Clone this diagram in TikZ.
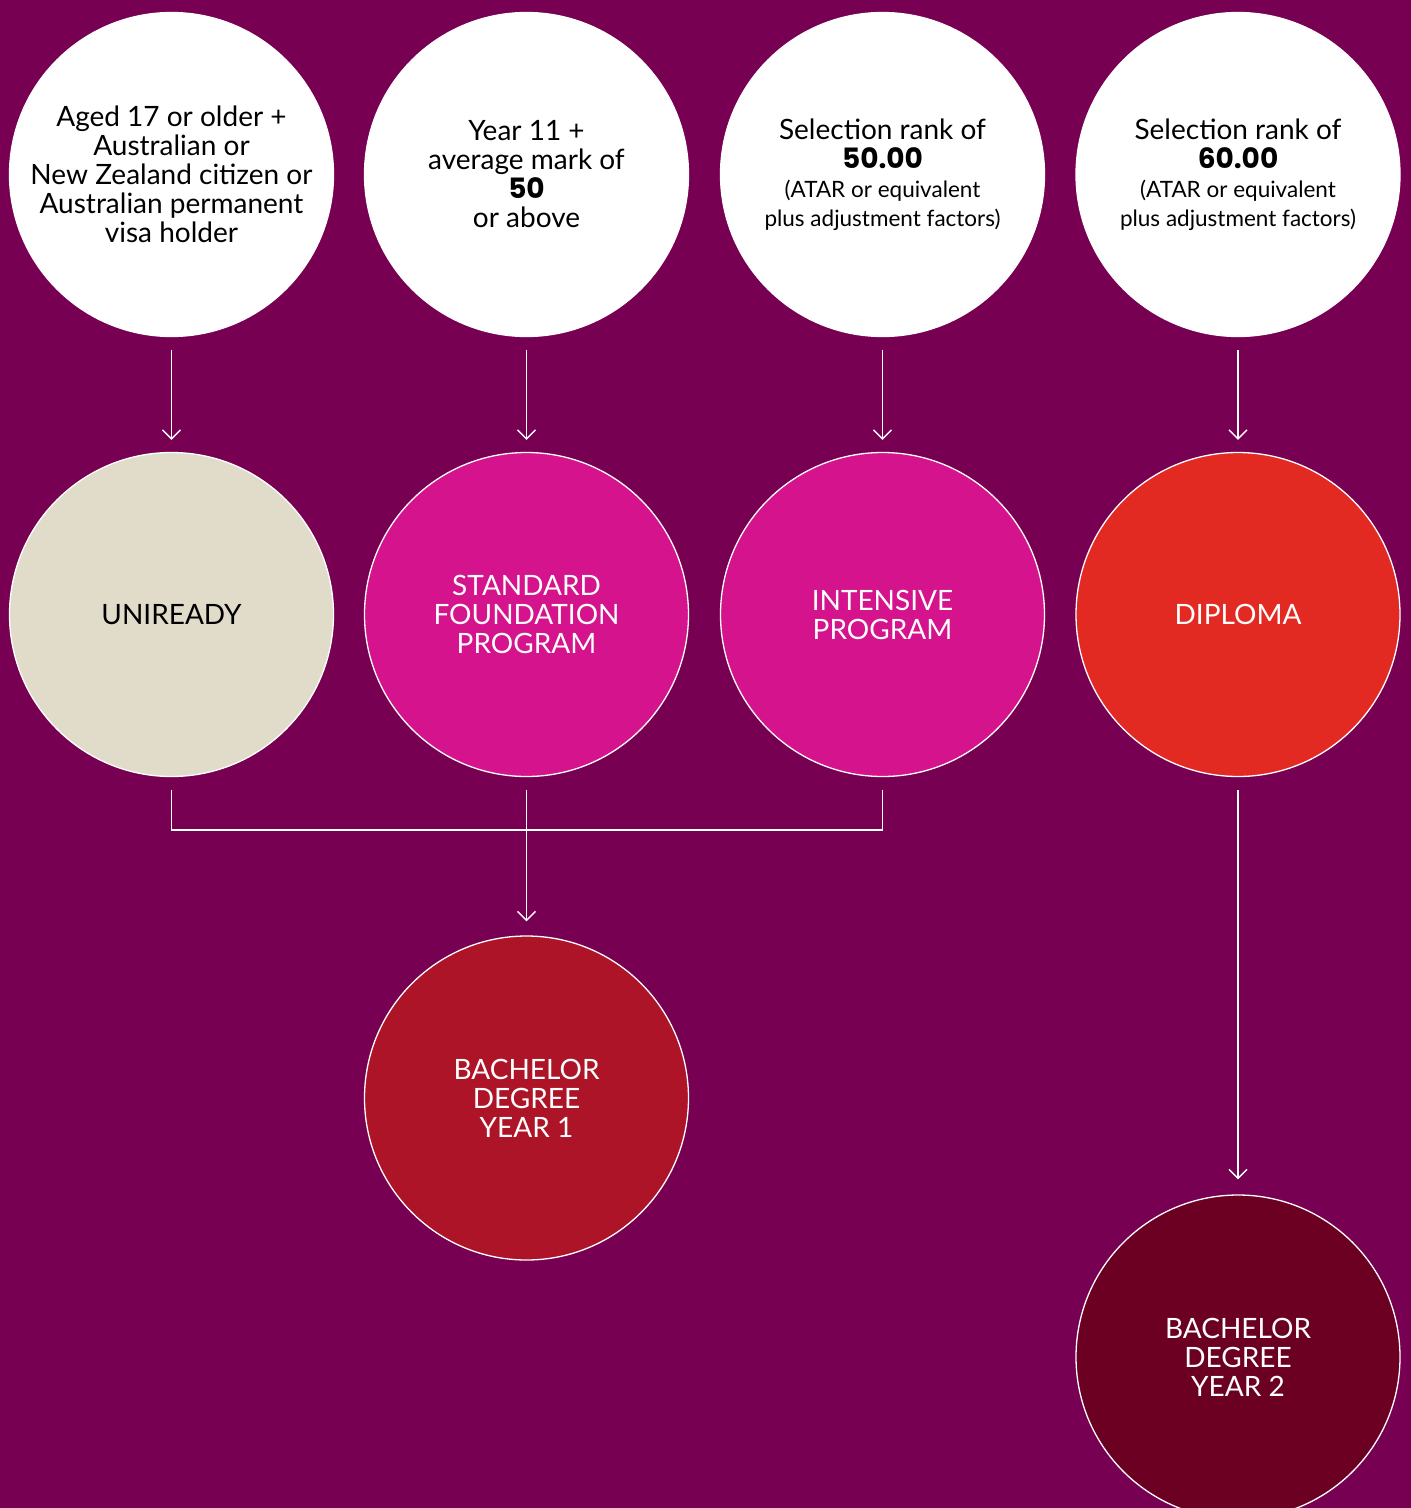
\documentclass[tikz,border=0pt]{standalone}
\usepackage{fontspec}
\setmainfont{Lato}
\newfontfamily\numfont{Poppins}
\usetikzlibrary{arrows.meta,calc}
\definecolor{bgc}{HTML}{770052}
\definecolor{beige}{HTML}{E1DCCA}
\definecolor{mag}{HTML}{D4138C}
\definecolor{redc}{HTML}{E32A22}
\definecolor{bachone}{HTML}{AD1427}
\definecolor{bachtwo}{HTML}{6B0023}
\tikzset{
  circ/.style={circle, draw=white, line width=1.3pt, minimum size=324pt, inner sep=0pt, align=center, font=\fontsize{28}{29}\selectfont},
  wcirc/.style={circ, fill=white, text=black},
  conn/.style={draw=white, line width=1.4pt},
  arr/.style={conn, -{Straight Barb[length=9pt,width=18pt,line width=1.4pt]}},
}
\newcommand{\smalltxt}{\fontsize{22.5}{29}\selectfont}
\newcommand{\bignum}[1]{{\numfont\bfseries #1}}
\begin{document}
\begin{tikzpicture}[x=1pt,y=-1pt]
\fill[bgc] (0,0) rectangle (1411,1508);
\useasboundingbox (0,0) rectangle (1411,1508);
% row 1
\node[wcirc] (c1) at (171.5,174.5) {Aged 17 or older +\\Australian or\\New Zealand citizen or\\Australian permanent\\visa holder};
\node[wcirc] (c2) at (526.5,174.5) {Year 11 +\\average mark of\\\bignum{50}\\or above};
\node[wcirc] (c3) at (882.5,174.5) {Selection rank of\\\bignum{50.00}\\\smalltxt (ATAR or equivalent\\\smalltxt plus adjustment factors)};
\node[wcirc] (c4) at (1238,174.5) {Selection rank of\\\bignum{60.00}\\\smalltxt (ATAR or equivalent\\\smalltxt plus adjustment factors)};
% row 2
\node[circ, fill=beige, text=black] (u) at (171.5,614.5) {UNIREADY};
\node[circ, fill=mag, text=white] (sf) at (526.5,614.5) {STANDARD\\FOUNDATION\\PROGRAM};
\node[circ, fill=mag, text=white] (ip) at (882.5,614.5) {INTENSIVE\\PROGRAM};
\node[circ, fill=redc, text=white] (dp) at (1238,614.5) {DIPLOMA};
% row 3
\node[circ, fill=bachone, text=white] (b1) at (526.5,1098) {BACHELOR\\DEGREE\\YEAR 1};
\node[circ, fill=bachtwo, text=white] (b2) at (1238,1357) {BACHELOR\\DEGREE\\YEAR 2};
% arrows
\draw[arr] ($(c1.south)+(0,13)$) -- ($(u.north)+(0,-12)$);
\draw[arr] ($(c2.south)+(0,13)$) -- ($(sf.north)+(0,-12)$);
\draw[arr] ($(c3.south)+(0,13)$) -- ($(ip.north)+(0,-12)$);
\draw[arr] ($(c4.south)+(0,13)$) -- ($(dp.north)+(0,-12)$);
\draw[conn] ($(u.south)+(0,13)$) -- ++(0,40) -| ($(ip.south)+(0,13)$);
\draw[arr] ($(sf.south)+(0,13)$) -- ($(b1.north)+(0,-14)$);
\draw[arr] ($(dp.south)+(0,13)$) -- ($(b2.north)+(0,-15)$);
\end{tikzpicture}
\end{document}
